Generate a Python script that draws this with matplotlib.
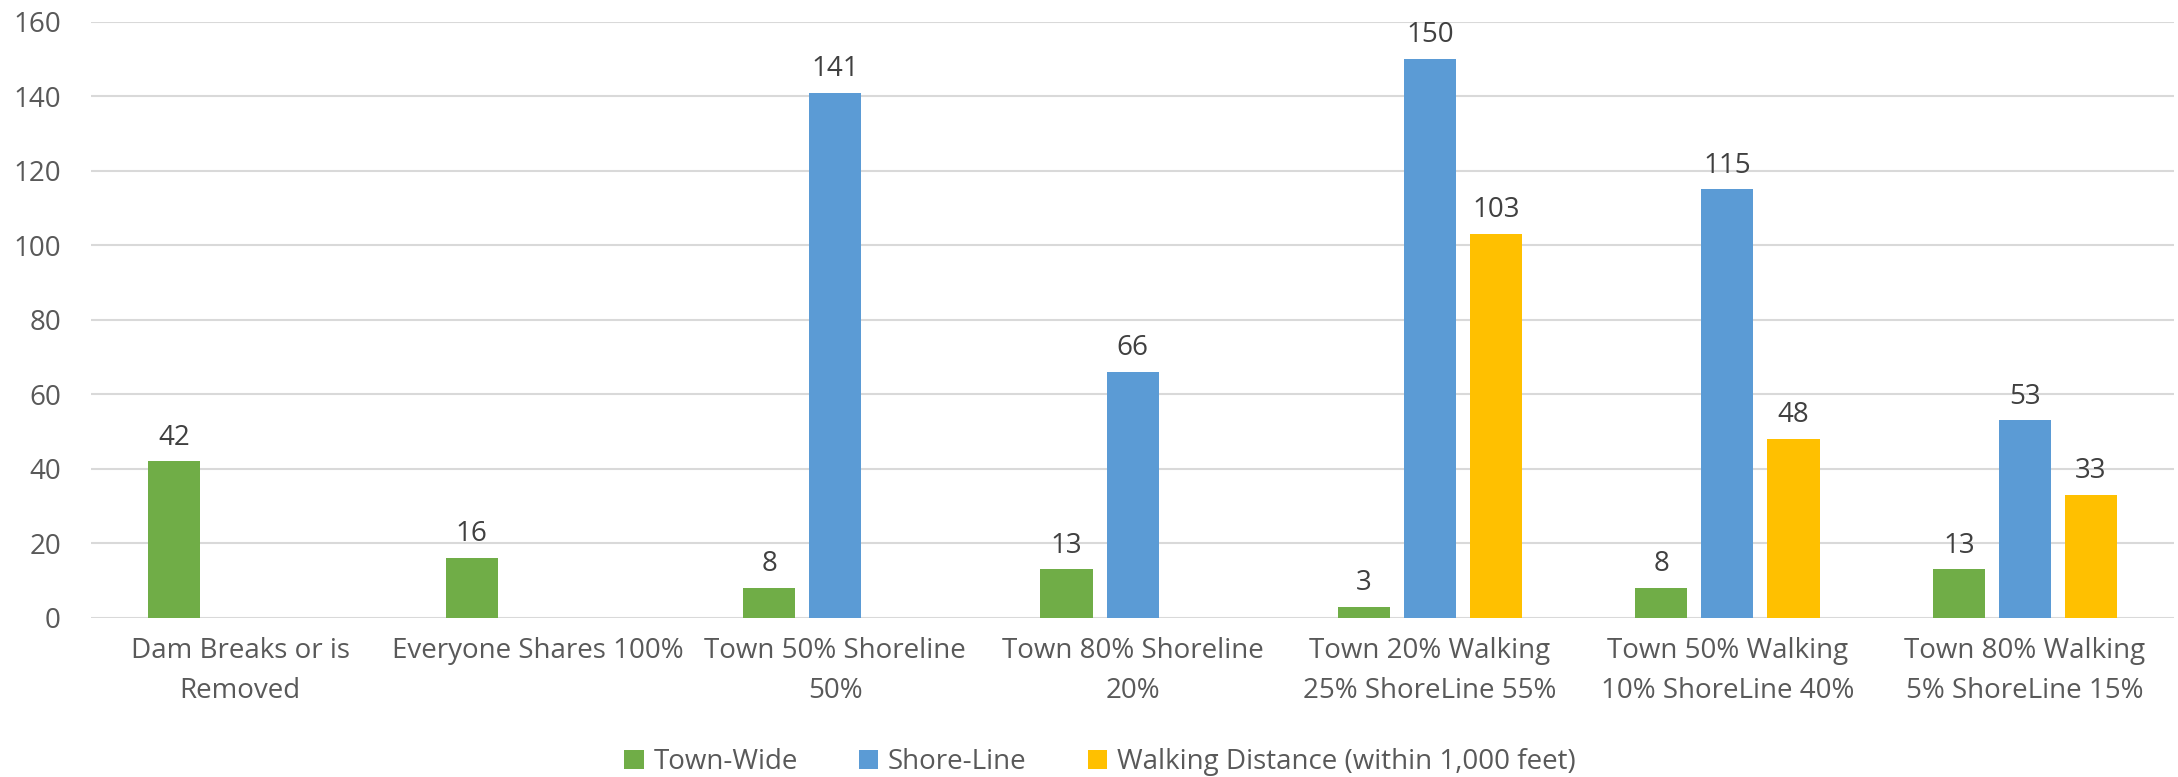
from matplotlib import pyplot as plt
import numpy as np

categories = ['Dam Breaks or is\nRemoved', 'Everyone Shares 100%', 'Town 50% Shoreline\n50%',
              'Town 80% Shoreline\n20%', 'Town 20% Walking\n25% ShoreLine 55%',
              'Town 50% Walking\n10% ShoreLine 40%', 'Town 80% Walking\n5% ShoreLine 15%']
town_wide = [42, 16, 8, 13, 3, 8, 13]
shore_line = [None, None, 141, 66, 150, 115, 53]
walking = [None, None, None, None, 103, 48, 33]
series_names = ['Town-Wide', 'Shore-Line', 'Walking Distance (within 1,000 feet)']
colors = ['#70AD47', '#5B9BD5', '#FFC000']

plt.rcParams['font.family'] = ['Open Sans', 'DejaVu Sans']
fs = 20

fig = plt.figure(figsize=(21.78, 7.77), dpi=100)
ax = fig.add_axes([0.042, 0.205, 0.956, 0.767])

x = np.arange(len(categories))
width = 0.175
step = 0.222
series = [town_wide, shore_line, walking]

for i, (vals, name, col) in enumerate(zip(series, series_names, colors)):
    offset = (i - 1) * step
    xs = [xi + offset for xi, v in zip(x, vals) if v is not None]
    ys = [v for v in vals if v is not None]
    bars = ax.bar(xs, ys, width, color=col, label=name, zorder=3)
    for b, v in zip(bars, ys):
        ax.annotate(str(v), (b.get_x() + b.get_width() / 2, v), xytext=(0, 7),
                    textcoords='offset points', ha='center', va='bottom',
                    fontsize=fs, color='#404040')

ax.set_xlim(-0.5, len(categories) - 0.5)
ax.set_ylim(0, 160)
ax.set_yticks(np.arange(0, 161, 20))
ax.set_xticks(x)
ax.set_xticklabels(categories, fontsize=fs, color='#595959', linespacing=1.55)
ax.tick_params(axis='y', labelsize=fs, labelcolor='#595959', length=0, pad=22)
ax.tick_params(axis='x', length=0, pad=14)
ax.grid(axis='y', color='#D9D9D9', linewidth=1.5, zorder=0)
for s in ax.spines.values():
    s.set_visible(False)

fig.legend(loc='lower center', bbox_to_anchor=(0.505, -0.031), ncol=3, frameon=False,
           fontsize=fs, labelcolor='#595959', handlelength=0.7, handleheight=0.7,
           handletextpad=0.35, columnspacing=2.2)

fig.savefig('out.png', dpi=100)
